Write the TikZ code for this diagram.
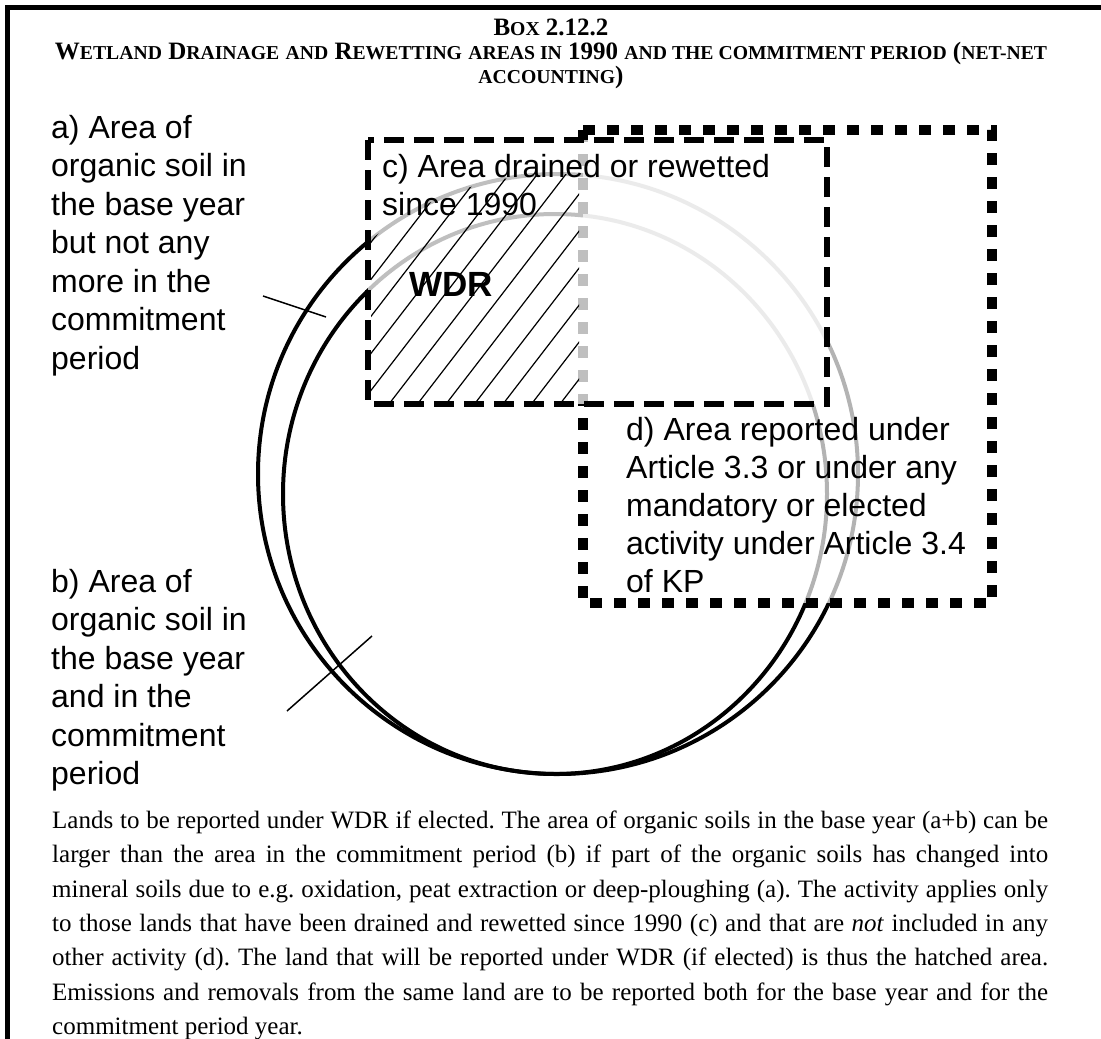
\documentclass[tikz,border=0pt]{standalone}
\usepackage{fontspec}
\setmainfont{Liberation Serif}
\setsansfont{Liberation Sans}
\newcommand{\sm}[1]{{\fontsize{19.7}{24}\selectfont #1}}

\begin{document}
\begin{tikzpicture}[x=1pt,y=-1pt,
  lbl/.style={anchor=north west,inner sep=0pt,align=left,font=\sffamily\fontsize{32}{38.5}\selectfont},
  ttl/.style={anchor=base,inner sep=0pt,font=\bfseries\fontsize{25}{24}\selectfont},
  ring/.style={line width=4pt},
  areac/.style={line width=6pt,dash pattern=on 20pt off 10pt,fill=white,fill opacity=0.75},
  aread/.style={line width=10pt,dash pattern=on 12pt off 12pt,fill=white,fill opacity=0.7},
  hatch/.style={line width=1.2pt},
  pointer/.style={line width=1.5pt}]
\useasboundingbox (0,0) rectangle (1101,1039);
\draw[line width=5pt] (7,1039) -- (7,7) -- (1101,7);

\node[ttl] (T1) at (551,35) {B\sm{OX} 2.12.2};
\node[ttl] (T2) at (551,59) {W\sm{ETLAND} D\sm{RAINAGE} \sm{AND} R\sm{EWETTING} \sm{AREAS IN} 1990 \sm{AND THE COMMITMENT PERIOD} (\sm{NET-NET}};
\node[ttl] (T3) at (551,83) {\sm{ACCOUNTING})};

% organic soil: base year and commitment period
\coordinate (O1) at (558,474);
\coordinate (O2) at (555,494);
\draw[ring] (O1) circle[radius=300];
\draw[ring] (O2) ellipse[x radius=272,y radius=280];

% d) and c) areas
\draw[aread] (583,130) rectangle (992,603);
\draw[areac] (368,140) rectangle (827,404);

% WDR hatching
\begin{scope}
\clip (371,143) rectangle (579,401);
\clip (O1) circle[radius=300];
\foreach \k in {0,...,16}
  \draw[hatch] (560-28.5*\k,404) -- ++(204,-265);
\end{scope}

\coordinate (A1) at (263,296);
\coordinate (A2) at (326,317);
\coordinate (B1) at (287,711);
\coordinate (B2) at (372,636);
\draw[pointer] (A1) -- (A2);
\draw[pointer] (B1) -- (B2);

\node[lbl] (La) at (51,115) {a) Area of\\organic soil in\\the base year\\but not any\\more in the\\commitment\\period};
\node[lbl] (Lb) at (51,569) {b) Area of\\organic soil in\\the base year\\and in the\\commitment\\period};
\node[lbl] (Lc) at (382,154) {c) Area drained or rewetted\\since 1990};
\node[lbl,font=\sffamily\fontsize{32}{38}\selectfont] (Ld) at (626,416.7) {d) Area reported under\\Article 3.3 or under any\\mandatory or elected\\activity under Article 3.4\\of KP};
\node[anchor=base west,inner sep=0pt,font=\sffamily\bfseries\fontsize{35}{40}\selectfont] (W) at (409,296) {WDR};

\node[anchor=north west,inner sep=0pt,text width=996pt,align=justify,font=\fontsize{25}{34.4}\selectfont\frenchspacing] (P) at (52,810.5)
  {Lands to be reported under WDR if elected. The area of organic soils in the base year (a+b) can be\linebreak
   larger than the area in the commitment period (b) if part of the organic soils has changed into\linebreak
   mineral soils due to e.g. oxidation, peat extraction or deep-ploughing (a). The activity applies only\linebreak
   to those lands that have been drained and rewetted since 1990 (c) and that are \textit{not} included in any\linebreak
   other activity (d). The land that will be reported under WDR (if elected) is thus the hatched area.\linebreak
   Emissions and removals from the same land are to be reported both for the base year and for the\linebreak
   commitment period year.};
\end{tikzpicture}
\end{document}
